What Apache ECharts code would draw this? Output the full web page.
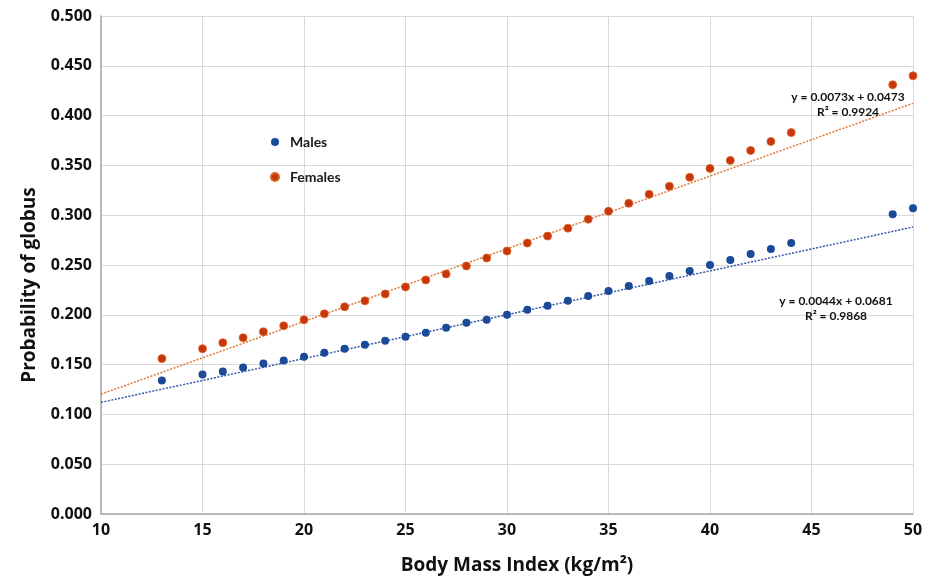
<!DOCTYPE html>
<html>
<head>
<meta charset="utf-8">
<script src="https://cdn.jsdelivr.net/npm/echarts@6/dist/echarts.min.js"></script>
<style>
  html, body { margin: 0; padding: 0; background: #fff; }
  #chart { width: 933px; height: 579px; }
</style>
</head>
<body>
<div id="chart"></div>
<script>
// BMI values (kg/m2)
const bmi = [13, 15, 16, 17, 18, 19, 20, 21, 22, 23, 24, 25, 26, 27, 28, 29, 30,
  31, 32, 33, 34, 35, 36, 37, 38, 39, 40, 41, 42, 43, 44, 49, 50]

const males = [0.134, 0.140, 0.143, 0.147, 0.151, 0.154, 0.158, 0.162, 0.166, 0.170,
  0.174, 0.178, 0.182, 0.187, 0.192, 0.195, 0.200, 0.205, 0.209, 0.214, 0.219,
  0.224, 0.229, 0.234, 0.239, 0.244, 0.250, 0.255, 0.261, 0.266, 0.272, 0.301, 0.307]

const females = [0.156, 0.166, 0.172, 0.177, 0.183, 0.189, 0.195, 0.201, 0.208, 0.214,
  0.221, 0.228, 0.235, 0.241, 0.249, 0.257, 0.264, 0.272, 0.279, 0.287, 0.296,
  0.304, 0.312, 0.321, 0.329, 0.338, 0.347, 0.355, 0.365, 0.374, 0.383, 0.431, 0.440]

// linear trend lines, end points at x = 10 and x = 50
const trendX = [10, 50]
const maleTrend = [0.1121, 0.2881]
const femaleTrend = [0.1203, 0.4123]

const maleEq = ['y = 0.0044x + 0.0681', 'R² = 0.9868']
const femaleEq = ['y = 0.0073x + 0.0473', 'R² = 0.9924']

const FONT = 'Open Sans'
const FONT2 = 'Lato'
const BLUE = '#1b4b98'
const RED = '#c9350c'

const pairs = (xs, ys) => xs.map((x, i) => [x, ys[i]])

const chart = echarts.init(document.getElementById('chart'), null, { renderer: 'canvas' })

chart.setOption({
  animation: false,
  backgroundColor: '#fff',
  textStyle: { fontFamily: FONT },
  grid: { left: 101, right: 20, top: 16, bottom: 65, outerBoundsMode: 'none' },
  legend: {
    orient: 'vertical',
    left: 265, top: 130,
    itemGap: 21,
    itemWidth: 8, itemHeight: 8,
    textStyle: { fontFamily: FONT2, fontWeight: 'bold', fontSize: 14, color: '#1a1a1a', padding: [0, 0, 0, 6] },
    data: [
      { name: 'Males', icon: 'circle' },
      { name: 'Females', icon: 'circle' },
    ],
  },
  xAxis: {
    type: 'value',
    min: 10, max: 50, interval: 5,
    name: 'Body Mass Index (kg/m²)',
    nameLocation: 'middle',
    nameGap: 42,
    nameTextStyle: { fontFamily: FONT, fontWeight: 'bold', fontSize: 19, color: '#111', padding: [0, 0, 0, 20] },
    axisLine: { lineStyle: { color: '#a6a6a6', width: 1.5 } },
    axisTick: { show: false },
    axisLabel: { fontFamily: FONT, fontWeight: 'bold', fontSize: 16, color: '#111', margin: 8 },
    splitLine: { show: true, lineStyle: { color: '#d9d9d9', width: 1 } },
  },
  yAxis: {
    type: 'value',
    min: 0, max: 0.5, interval: 0.05,
    name: 'Probability of globus',
    nameLocation: 'middle',
    nameGap: 62,
    nameTextStyle: { fontFamily: FONT, fontWeight: 'bold', fontSize: 19, color: '#111', padding: [0, 40, 0, 0] },
    axisLine: { show: true, lineStyle: { color: '#a6a6a6', width: 1.5 } },
    axisTick: { show: false },
    axisLabel: { fontFamily: FONT, fontWeight: 'bold', fontSize: 16, color: '#111', margin: 9,
      formatter: v => v.toFixed(3) },
    splitLine: { lineStyle: { color: '#d9d9d9', width: 1 } },
  },
  series: [
    {
      name: 'Males trend',
      type: 'line',
      data: pairs(trendX, maleTrend),
      symbol: 'none',
      silent: true,
      lineStyle: { color: '#3458a8', width: 1.5, type: [2, 1.5] },
      z: 1,
    },
    {
      name: 'Females trend',
      type: 'line',
      data: pairs(trendX, femaleTrend),
      symbol: 'none',
      silent: true,
      lineStyle: { color: '#e07a32', width: 1.5, type: [2, 1.5] },
      z: 1,
    },
    {
      name: 'Males',
      type: 'scatter',
      data: pairs(bmi, males),
      symbolSize: 8,
      itemStyle: { color: BLUE, opacity: 1 },
      z: 3,
    },
    {
      name: 'Females',
      type: 'scatter',
      data: pairs(bmi, females),
      symbolSize: 8,
      itemStyle: { color: RED, borderColor: '#d9651f', borderWidth: 0.8, opacity: 1 },
      z: 3,
    },
  ],
  graphic: [
    {
      type: 'text', x: 848, y: 90, z: 10,
      style: { text: femaleEq.join('\n'), align: 'center', fill: '#111',
        font: `bold 12px ${FONT2}`, lineHeight: 15 },
    },
    {
      type: 'text', x: 836, y: 294, z: 10,
      style: { text: maleEq.join('\n'), align: 'center', fill: '#111',
        font: `bold 12px ${FONT2}`, lineHeight: 15 },
    },
  ],
})

window.addEventListener('resize', () => chart.resize())
</script>
</body>
</html>
